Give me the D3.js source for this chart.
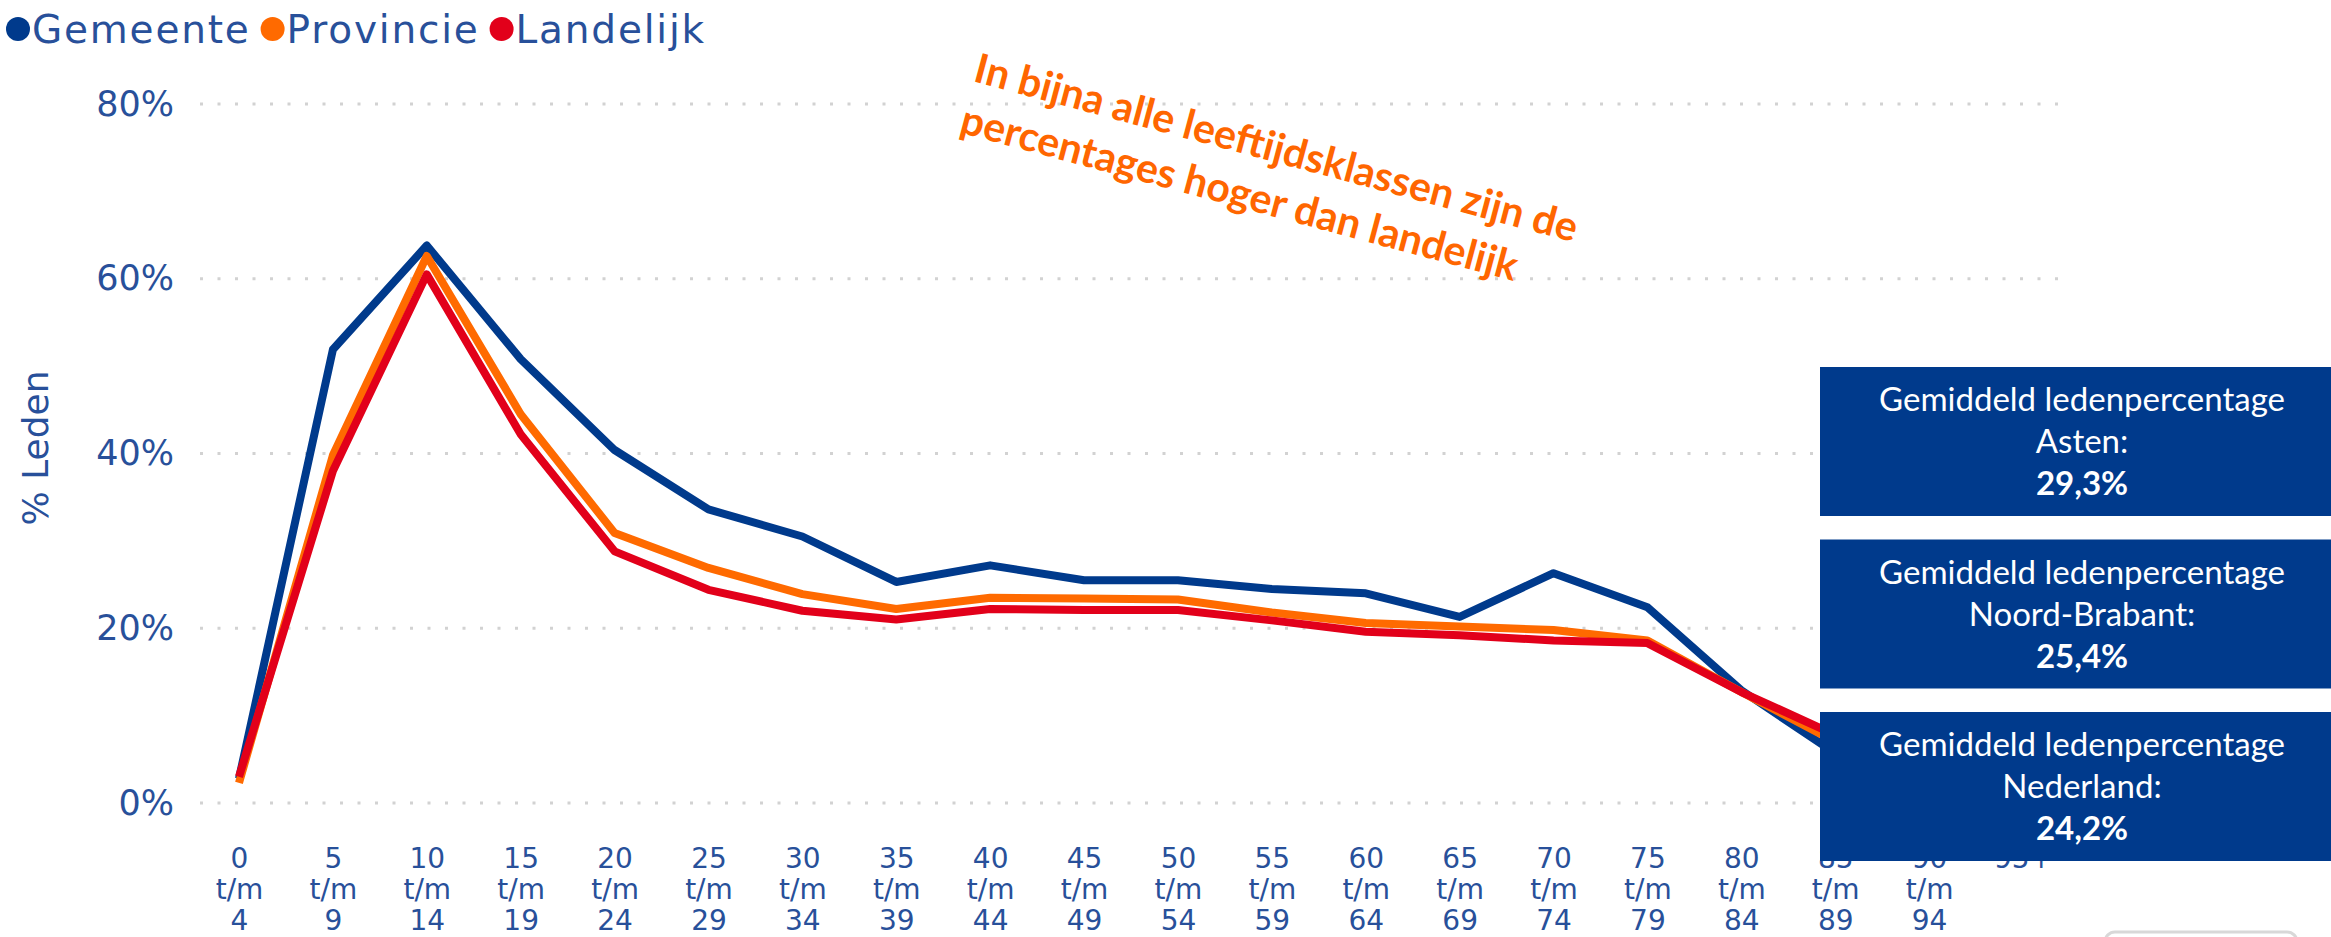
<!DOCTYPE html>
<html>
<head>
<meta charset="utf-8">
<script src="https://cdn.jsdelivr.net/npm/d3@7"></script>
<style>
  html, body { margin: 0; padding: 0; background: #fff; overflow: hidden; }
</style>
</head>
<body>
<div id="chart"></div>
<script>
const categories = [
  "0 t/m 4", "5 t/m 9", "10 t/m 14", "15 t/m 19", "20 t/m 24", "25 t/m 29",
  "30 t/m 34", "35 t/m 39", "40 t/m 44", "45 t/m 49", "50 t/m 54", "55 t/m 59",
  "60 t/m 64", "65 t/m 69", "70 t/m 74", "75 t/m 79", "80 t/m 84", "85 t/m 89",
  "90 t/m 94", "95+"
]
// laatste twee klassen vallen achter de kaders, niet af te lezen
const gemeente = [2.8, 51.9, 63.8, 50.8, 40.4, 33.6, 30.5, 25.3, 27.2, 25.5, 25.5, 24.5, 24.0, 21.3, 26.3, 22.4, 12.9, 5.7, null, null]
const provincie = [2.3, 39.8, 62.6, 44.5, 30.9, 26.9, 23.9, 22.2, 23.5, 23.4, 23.3, 21.8, 20.6, 20.2, 19.8, 18.6, 12.7, 7.0, null, null]
const landelijk = [3.0, 38.0, 60.5, 42.2, 28.8, 24.4, 22.0, 21.0, 22.2, 22.1, 22.1, 20.9, 19.6, 19.2, 18.6, 18.3, 12.7, 7.8, null, null]
const yTicks = [0, 20, 40, 60, 80]
const seriesNames = ["Gemeente", "Provincie", "Landelijk"]
const seriesColors = ["#003a8c", "#ff6a00", "#e2001a"]
const averageLabels = ["Asten:", "Noord-Brabant:", "Nederland:"]
const averageValues = ["29,3%", "25,4%", "24,2%"]
const note = ["In bijna alle leeftijdsklassen zijn de", "percentages hoger dan landelijk"]

const width = 2331
const height = 937
const textBlue = "#28509a"
const boxBlue = "#003a8c"
const axisFont = "'DejaVu Sans', Verdana, sans-serif"
const boxFont = "Lato, 'Open Sans', sans-serif"

const svg = d3
  .create("svg")
  .attr("viewBox", [0, 0, width, height])
  .attr("width", width)
  .attr("height", height)

// eerst in de pagina hangen, anders meet getComputedTextLength niets
document.querySelector("#chart").append(svg.node())

const x = d3.scalePoint().domain(categories).range([239, 2023])
const y = d3.scaleLinear().domain([0, 80]).range([803, 104])

// gridlines
svg.append("g")
  .selectAll("line")
  .data(yTicks)
  .join("line")
  .attr("x1", 200)
  .attr("x2", 2066)
  .attr("y1", d => y(d))
  .attr("y2", d => y(d))
  .attr("stroke", "#d2d2d2")
  .attr("stroke-width", 3)
  .attr("stroke-dasharray", "3,14.5")

// y axis
const yAxis = svg.append("g")
  .attr("transform", "translate(174,0)")
  .call(d3.axisLeft(y).tickValues(yTicks).tickSize(0).tickPadding(0).tickFormat(d => d + "%"))
yAxis.select(".domain").remove()
yAxis.selectAll("text")
  .attr("fill", textBlue)
  .attr("font-family", axisFont)
  .attr("font-size", 35)

svg.append("text")
  .attr("transform", "translate(48,448) rotate(-90)")
  .attr("text-anchor", "middle")
  .attr("fill", textBlue)
  .attr("font-family", axisFont)
  .attr("font-size", 36)
  .text("% Leden")

// x axis, drie regels per klasse
const xAxis = svg.append("g")
  .attr("transform", "translate(0,858)")
  .call(d3.axisBottom(x).tickSize(0).tickPadding(0).tickFormat(""))
xAxis.select(".domain").remove()
xAxis.selectAll(".tick")
  .append("text")
  .attr("fill", textBlue)
  .attr("font-family", axisFont)
  .attr("font-size", 28)
  .attr("text-anchor", "middle")
  .selectAll("tspan")
  .data(d => d.split(" "))
  .join("tspan")
  .attr("x", 0)
  .attr("y", (d, i) => 10 + i * 31)
  .text(d => d)

// lijnen
const line = d3.line()
  .defined(d => d.v != null)
  .x(d => x(d.c))
  .y(d => y(d.v))

;[gemeente, provincie, landelijk].forEach((values, k) => {
  svg.append("path")
    .datum(values.map((v, i) => ({ c: categories[i], v })))
    .attr("fill", "none")
    .attr("stroke", seriesColors[k])
    .attr("stroke-width", 8)
    .attr("stroke-linejoin", "round")
    .attr("d", line)
})

// legenda
const legend = svg.append("g").attr("transform", "translate(0,29)")
let lx = 6
seriesNames.forEach((name, k) => {
  const item = legend.append("g").attr("transform", `translate(${lx},0)`)
  item.append("circle").attr("cx", 12).attr("r", 12).attr("fill", seriesColors[k])
  const t = item.append("text")
    .attr("x", 26)
    .attr("dy", "0.36em")
    .attr("fill", textBlue)
    .attr("font-family", axisFont)
    .attr("font-size", 39)
    .attr("letter-spacing", 1.8)
    .text(name)
  lx += 26 + t.node().getComputedTextLength() + 10
})

// toelichting
const noteG = svg.append("g").attr("transform", "translate(972,81) rotate(15)")
noteG.selectAll("text")
  .data(note)
  .join("text")
  .attr("x", 0)
  .attr("y", (d, i) => i * 53)
  .attr("fill", "#ff6600")
  .attr("font-family", boxFont)
  .attr("font-weight", 700)
  .attr("font-size", 41)
  .text(d => d)

// kaders met gemiddelden
const boxes = svg.append("g")
  .selectAll("g")
  .data(averageLabels)
  .join("g")
  .attr("transform", (d, i) => `translate(1820,${367 + i * 172.5})`)
boxes.append("rect")
  .attr("width", 530)
  .attr("height", 149)
  .attr("fill", boxBlue)
const boxText = boxes.append("text")
  .attr("text-anchor", "middle")
  .attr("fill", "#fff")
  .attr("font-family", boxFont)
  .attr("font-size", 33)
boxText.append("tspan").attr("x", 262).attr("y", 44).text("Gemiddeld ledenpercentage")
boxText.append("tspan").attr("x", 262).attr("y", 86).text(d => d)
boxText.append("tspan").attr("x", 262).attr("y", 128).attr("font-weight", 700).text((d, i) => averageValues[i])

// randje van een knop onderin
svg.append("rect")
  .attr("x", 2105)
  .attr("y", 932)
  .attr("width", 192)
  .attr("height", 30)
  .attr("rx", 10)
  .attr("fill", "#fff")
  .attr("stroke", "#d8d8d8")
  .attr("stroke-width", 3)
</script>
</body>
</html>
